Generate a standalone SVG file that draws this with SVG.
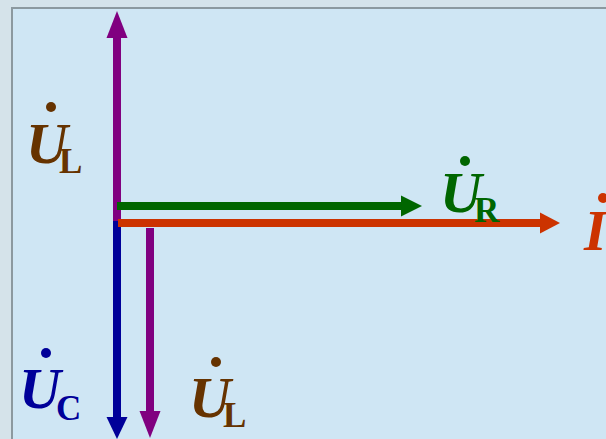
<svg xmlns="http://www.w3.org/2000/svg" width="606" height="439" viewBox="0 0 606 439">
<style>
.u{font-family:"Liberation Serif","Times New Roman",serif;font-weight:bold;font-style:italic;font-size:58px}
.s{font-family:"Liberation Serif","Times New Roman",serif;font-weight:bold;font-size:35px}
.brown{fill:#663300}.blue{fill:#000099}.green{fill:#006600}.red{fill:#cc3300}
</style>
<rect x="0" y="0" width="606" height="439" fill="#d5e3ea"/>
<rect x="12" y="8" width="600" height="440" fill="#cfe6f4" stroke="#8c999f" stroke-width="2"/>
<g id="connectors">
  <g id="UL-up">
    <rect x="113" y="36" width="8" height="185" fill="#800080"/>
    <polygon points="117,11 106.5,38 127.5,38" fill="#800080"/>
  </g>
  <g id="UC-down">
    <rect x="113" y="221" width="8" height="198" fill="#000099"/>
    <polygon points="117,439 106.5,417 127.5,417" fill="#000099"/>
  </g>
  <g id="UR-right">
    <rect x="117" y="202" width="286" height="8" fill="#006600"/>
    <polygon points="422,206 401,195.5 401,216.5" fill="#006600"/>
  </g>
  <g id="I-right">
    <rect x="118" y="219" width="424" height="8" fill="#cc3300"/>
    <polygon points="560,223 540,212.5 540,233.5" fill="#cc3300"/>
  </g>
  <g id="UL-down">
    <rect x="146" y="228" width="8" height="185" fill="#800080"/>
    <polygon points="150,438 139.5,411 160.5,411" fill="#800080"/>
  </g>
</g>
<g id="label-UL-top" class="brown">
  <circle cx="51" cy="107" r="5"/>
  <text class="u" x="26" y="163">U</text>
  <text class="s" x="59" y="173">L</text>
</g>
<g id="label-UC" class="blue">
  <circle cx="46" cy="353" r="5"/>
  <text class="u" x="19" y="408">U</text>
  <text class="s" x="56" y="420">C</text>
</g>
<g id="label-UL-bottom" class="brown">
  <circle cx="216" cy="362" r="5"/>
  <text class="u" x="189" y="417">U</text>
  <text class="s" x="223" y="427">L</text>
</g>
<g id="label-UR" class="green">
  <circle cx="465" cy="161" r="5"/>
  <text class="u" x="440" y="212">U</text>
  <text class="s" x="474" y="222">R</text>
</g>
<g id="label-I" class="red">
  <circle cx="603" cy="198" r="5"/>
  <text class="u" x="584" y="250">I</text>
</g>
</svg>
